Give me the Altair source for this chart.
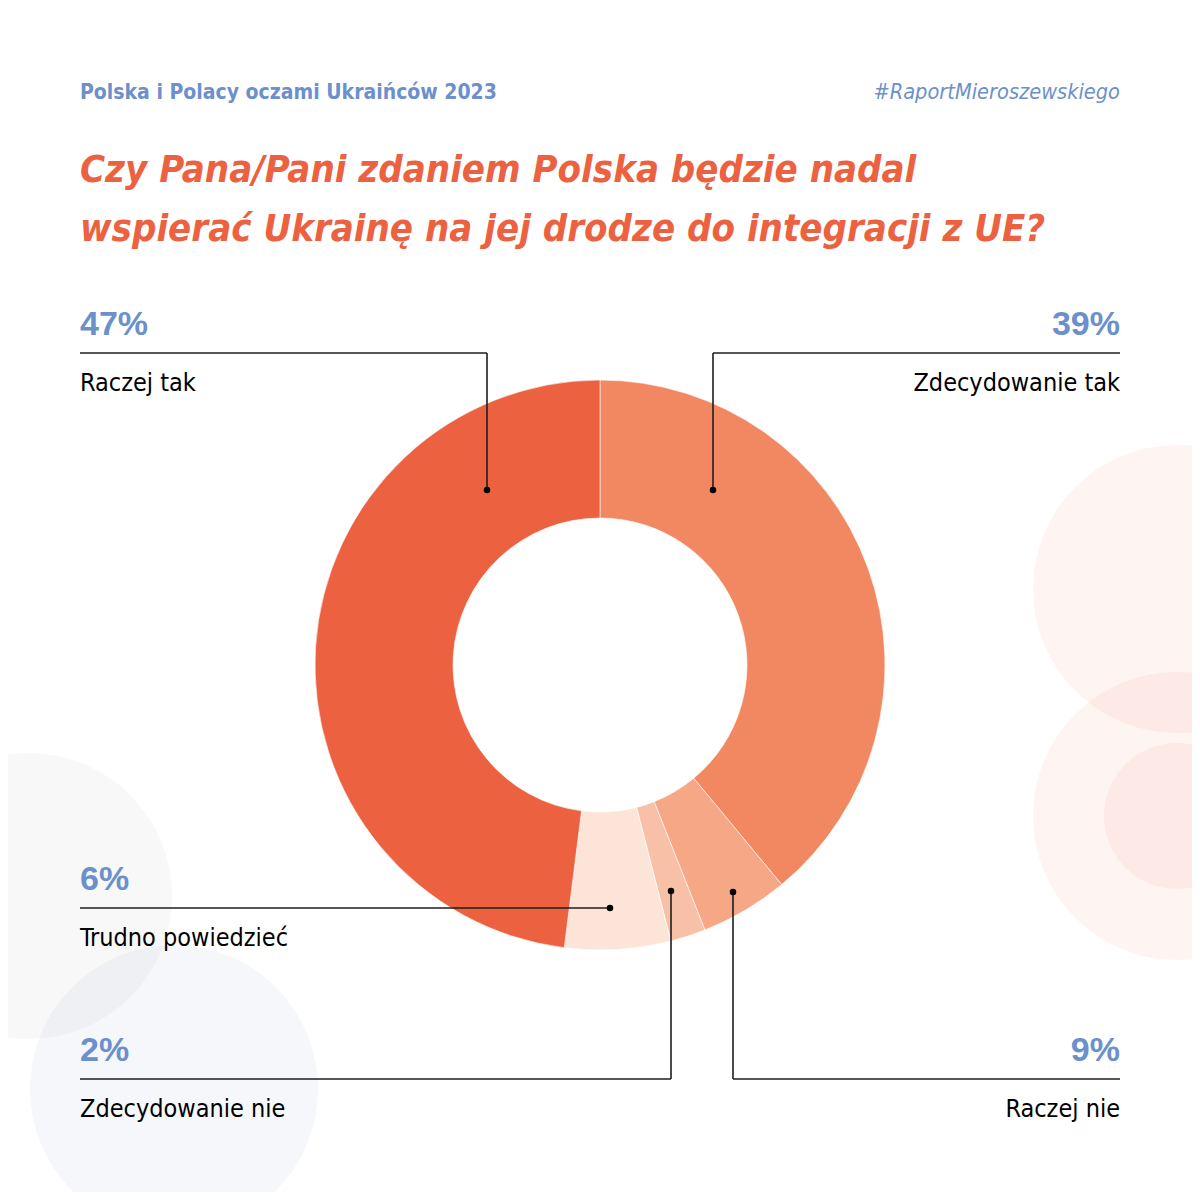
import altair as alt
import pandas as pd

# ---------------- data ----------------
categories = ["Zdecydowanie tak", "Raczej nie", "Zdecydowanie nie", "Trudno powiedzieć", "Raczej tak"]
slice_share = [39, 5, 2, 6, 48]            # slice sizes as drawn in the picture
label_pct = ["39%", "9%", "2%", "6%", "47%"]  # percentages printed on the chart
slice_colors = ["#F28862", "#F5A786", "#F8C0A6", "#FDE4D8", "#EC6241"]

header_left = "Polska i Polacy oczami Ukraińców 2023"
header_right = "#RaportMieroszewskiego"
title_lines = ["Czy Pana/Pani zdaniem Polska będzie nadal",
               "wspierać Ukrainę na jej drodze do integracji z UE?"]

# ---------------- layout (page pixels) ----------------
BLUE = "#6B90CB"
ORANGE = "#EC6241"
COND = "Liberation Sans Narrow, DejaVu Sans Condensed, Roboto Condensed, Roboto, sans-serif"
W = H = 1184
CX, CY = 600, 665

# annotation routing: dot -> corner -> end of leader line
ann_layout = {
    "Raczej tak":        dict(dot=(487, 490), corner=(487, 353), end=(80, 353), align="left"),
    "Zdecydowanie tak":  dict(dot=(713, 490), corner=(713, 353), end=(1120, 353), align="right"),
    "Trudno powiedzieć": dict(dot=(610, 908), corner=(610, 908), end=(80, 908), align="left"),
    "Zdecydowanie nie":  dict(dot=(671, 891), corner=(671, 1079), end=(80, 1079), align="left"),
    "Raczej nie":        dict(dot=(733, 892), corner=(733, 1079), end=(1120, 1079), align="right"),
}

xs = alt.Scale(domain=[8, 8 + W], nice=False, zero=False)
ys = alt.Scale(domain=[8, 8 + H], nice=False, zero=False, reverse=True)
X = lambda f="x": alt.X(f"{f}:Q", scale=xs, axis=None)
Y = lambda f="y": alt.Y(f"{f}:Q", scale=ys, axis=None)

# ---------------- background circles ----------------
def circle(cx, cy, r, color, op):
    return alt.Chart(pd.DataFrame({"x": [cx], "y": [cy]})).mark_point(
        filled=True, shape="circle", size=(2 * r) ** 2, color=color, opacity=op, strokeWidth=0
    ).encode(x=X(), y=Y())

bg = [
    circle(29, 896, 143, "#808080", 0.06),
    circle(174, 1089, 144, BLUE, 0.07),
    circle(1177, 589, 144, ORANGE, 0.07),
    circle(1177, 816, 144, ORANGE, 0.07),
    circle(1177, 816, 73, ORANGE, 0.07),
]

# ---------------- donut ----------------
pie_df = pd.DataFrame({"cat": categories, "share": slice_share, "idx": range(len(categories))})
donut = alt.Chart(pie_df).mark_arc(outerRadius=285, innerRadius=147, stroke="#ffffff", strokeWidth=0.6).encode(
    theta=alt.Theta("share:Q", stack=True),
    color=alt.Color("cat:N", scale=alt.Scale(domain=categories, range=slice_colors), legend=None),
    order=alt.Order("idx:Q"),
    x=alt.value(CX - 8),
    y=alt.value(CY - 8),
)

# ---------------- leader lines ----------------
seg_rows, dot_rows, pct_rows, lab_rows = [], [], [], []
for cat, pct in zip(categories, label_pct):
    a = ann_layout[cat]
    (dx, dy), (kx, ky), (ex, ey) = a["dot"], a["corner"], a["end"]
    seg_rows.append(dict(x=dx, y=dy, x2=kx, y2=ky))
    seg_rows.append(dict(x=kx, y=ky, x2=ex, y2=ey))
    dot_rows.append(dict(x=dx, y=dy))
    pct_rows.append(dict(x=ex, y=ey - 18, t=pct, al=a["align"]))
    lab_rows.append(dict(x=ex, y=ey + 38, t=cat, al=a["align"]))

segs = alt.Chart(pd.DataFrame(seg_rows)).mark_rule(color="#1e1e1e", strokeWidth=1.6).encode(
    x=X(), y=Y(), x2="x2:Q", y2="y2:Q")
dots = alt.Chart(pd.DataFrame(dot_rows)).mark_point(
    filled=True, shape="circle", size=42, color="#000000", opacity=1).encode(x=X(), y=Y())

def texts(rows, align, **kw):
    df = pd.DataFrame([r for r in rows if r["al"] == align])
    return alt.Chart(df).mark_text(align=align, baseline="alphabetic", **kw).encode(
        x=X(), y=Y(), text="t:N")

pct_style = dict(font="Liberation Sans, Arial, sans-serif", fontSize=34, fontWeight="bold", color=BLUE)
lab_style = dict(font=COND, fontSize=25, fontWeight="normal", color="#000000")
txt = [
    texts(pct_rows, "left", **pct_style), texts(pct_rows, "right", **pct_style),
    texts(lab_rows, "left", **lab_style), texts(lab_rows, "right", **lab_style),
]

head_df = pd.DataFrame([dict(x=80, y=99, t=header_left, al="left")])
hash_df = pd.DataFrame([dict(x=1120, y=99, t=header_right, al="right")])
title_df = pd.DataFrame([dict(x=80, y=182, t=title_lines[0]), dict(x=80, y=241, t=title_lines[1])])

head = alt.Chart(head_df).mark_text(align="left", baseline="alphabetic", font=COND, fontSize=21,
                                    fontWeight="bold", color=BLUE).encode(x=X(), y=Y(), text="t:N")
hasht = alt.Chart(hash_df).mark_text(align="right", baseline="alphabetic", font=COND, fontSize=21.6,
                                     fontStyle="italic", fontWeight="normal", color=BLUE).encode(x=X(), y=Y(), text="t:N")
title = alt.Chart(title_df).mark_text(align="left", baseline="alphabetic", font=COND, fontSize=38,
                                      fontStyle="italic", fontWeight="bold", color=ORANGE).encode(x=X(), y=Y(), text="t:N")

chart = alt.layer(*bg, donut, segs, dots, *txt, head, hasht, title).properties(
    width=W, height=H, padding=0, autosize=alt.AutoSizeParams(type="none"), background="#ffffff"
).configure_view(stroke=None)

chart.save("out.html", embed_options={"renderer": "svg", "actions": False})
